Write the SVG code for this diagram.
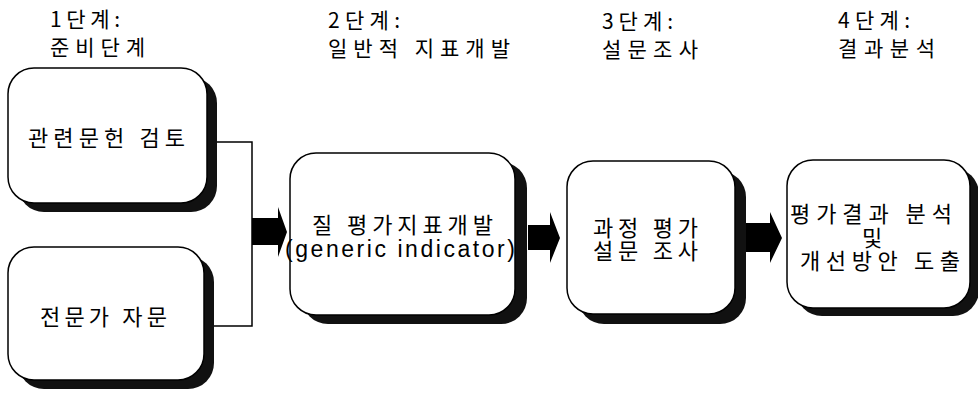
<svg xmlns="http://www.w3.org/2000/svg" width="978" height="396" viewBox="0 0 978 396">
<style>
.bg{fill:#fff}
.sh{fill:#111}
.bx{fill:#fff;stroke:#000;stroke-width:1.5}
.t{font-family:"Noto Sans CJK KR","Noto Sans",sans-serif;font-size:21px;fill:#000}
.b{font-family:"Noto Sans CJK KR","Noto Sans",sans-serif;font-size:22px;fill:#000}
.l{font-family:"Liberation Sans",Arial,sans-serif;font-size:23px}
.c{fill:none;stroke:#000;stroke-width:1.5}
.ar{fill:#000}
</style>
<rect class="bg" x="0" y="0" width="978" height="396"/>
<g id="titles">
<text class="t" x="50" y="27" textLength="70" lengthAdjust="spacing">1단계:</text>
<text class="t" x="50" y="55" textLength="95" lengthAdjust="spacing">준비단계</text>
<text class="t" x="328" y="28" textLength="72" lengthAdjust="spacing">2단계:</text>
<text class="t" x="328" y="56" textLength="182" lengthAdjust="spacing">일반적 지표개발</text>
<text class="t" x="602" y="29" textLength="71" lengthAdjust="spacing">3단계:</text>
<text class="t" x="602" y="57" textLength="96" lengthAdjust="spacing">설문조사</text>
<text class="t" x="838" y="28" textLength="72" lengthAdjust="spacing">4단계:</text>
<text class="t" x="838" y="56" textLength="97" lengthAdjust="spacing">결과분석</text>
</g>
<g id="connectors">
<polyline class="c" points="214,142 252,142 252,326 214,326"/>
<polygon class="ar" points="252,218 278,218 278,207 287,232 278,257 278,245 252,245"/>
<polygon class="ar" points="528,225 550,225 550,212 560,238 550,263 550,250 528,250"/>
<polygon class="ar" points="745,223 770,223 770,212 782,238 770,263 770,252 745,252"/>
</g>
<g id="n1">
<rect class="sh" x="18" y="77" width="199" height="135" rx="26"/>
<rect class="bx" x="8" y="68" width="199" height="135" rx="26"/>
<text class="b" x="28" y="146" textLength="157" lengthAdjust="spacing">관련문헌 검토</text>
</g>
<g id="n2">
<rect class="sh" x="18" y="256" width="196" height="133" rx="26"/>
<rect class="bx" x="8" y="247" width="196" height="133" rx="26"/>
<text class="b" x="40" y="325" textLength="127" lengthAdjust="spacing">전문가 자문</text>
</g>
<g id="n3">
<rect class="sh" x="302" y="162" width="225" height="162" rx="26"/>
<rect class="bx" x="290" y="153" width="225" height="162" rx="26"/>
<text class="b"><tspan x="312" y="233" textLength="181" lengthAdjust="spacing">질 평가지표개발</tspan><tspan class="l" x="285" y="257" textLength="230" lengthAdjust="spacing">(generic indicator)</tspan></text>
</g>
<g id="n4">
<rect class="sh" x="578" y="171" width="168" height="153" rx="26"/>
<rect class="bx" x="567" y="161" width="168" height="153" rx="26"/>
<text class="b"><tspan x="593" y="236" textLength="105" lengthAdjust="spacing">과정 평가</tspan><tspan x="593" y="259" textLength="105" lengthAdjust="spacing">설문 조사</tspan></text>
</g>
<g id="n5">
<rect class="sh" x="796" y="168" width="183" height="148" rx="26"/>
<rect class="bx" x="787" y="160" width="183" height="148" rx="26"/>
<text class="b"><tspan x="790" y="222" textLength="162" lengthAdjust="spacing">평가결과 분석</tspan><tspan x="872" y="246" text-anchor="middle">및</tspan><tspan x="800" y="269" textLength="160" lengthAdjust="spacing">개선방안 도출</tspan></text>
</g>
</svg>
